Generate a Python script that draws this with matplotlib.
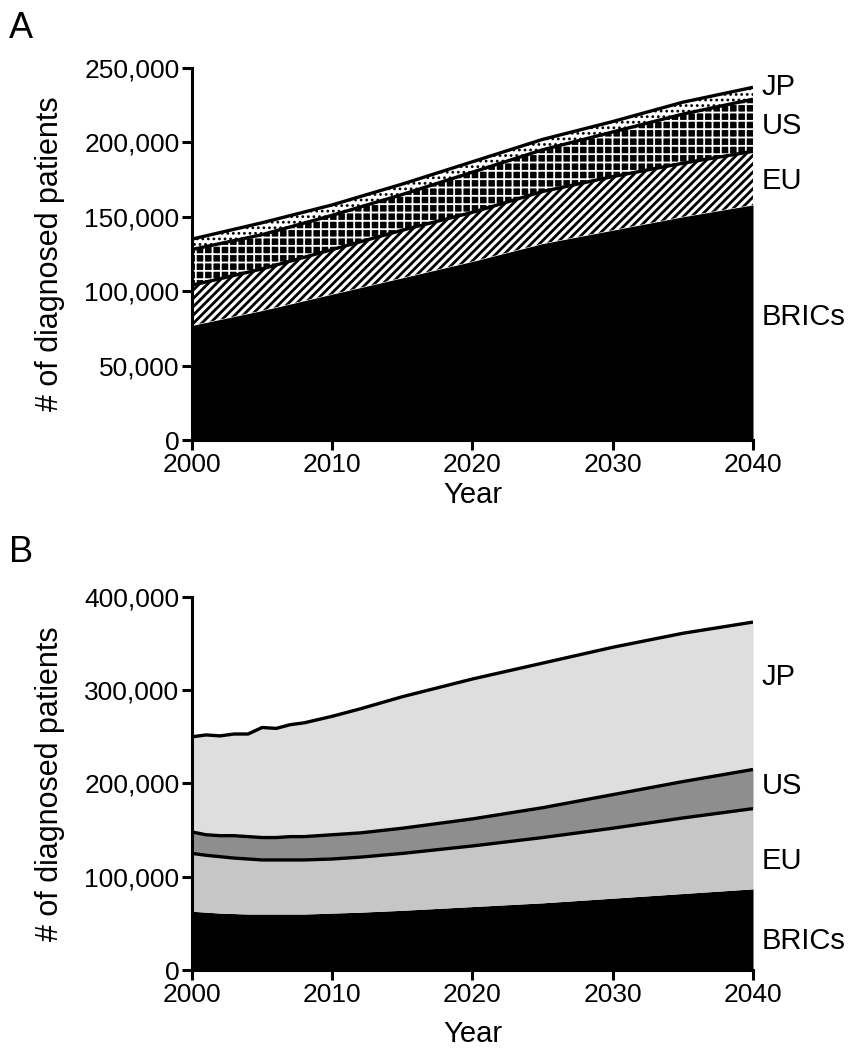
from matplotlib import pyplot as plt
from matplotlib.ticker import FuncFormatter
import numpy as np

plt.rcParams['font.family'] = ['Liberation Sans', 'DejaVu Sans']

# Panel A: diagnosed patients by region (thousands)
years_a = [2000, 2005, 2010, 2015, 2020, 2025, 2030, 2035, 2040]
brics_a = [77, 87, 98, 109, 120, 132, 141, 150, 158]
eu_a = [27, 28, 30, 32, 33, 35, 36, 36, 36]
us_a = [24, 23, 23, 24, 27, 28, 30, 33, 35]
jp_a = [7, 8, 7, 7, 7, 7, 7, 8, 8]

# Panel B (thousands)
years_b = [2000, 2001, 2002, 2003, 2004, 2005, 2006, 2007, 2008, 2010,
           2012, 2015, 2020, 2025, 2030, 2035, 2040]
brics_b = [63, 62, 61, 60.5, 60, 60, 60, 60, 60, 61, 62, 64, 68, 72, 77, 82, 87]
eu_b = [62, 61, 60.5, 59.5, 59, 58, 58, 58, 58, 58, 59, 61, 65, 70, 75, 81, 86]
us_b = [23, 22, 22.5, 24, 24, 24, 24, 25, 25, 26, 26, 27, 29, 32, 36, 39, 42]
jp_b = [102, 107, 107, 109, 110, 118, 117, 120, 122, 127, 133, 141, 150, 155,
        158, 159, 158]

regions = ['BRICs', 'EU', 'US', 'JP']
label_y_a = [83000, 174000, 211000, 237000]
label_y_b = [31000, 117000, 197000, 314000]

fig = plt.figure(figsize=(8.59, 10.57), dpi=100)
ax1 = fig.add_axes([0.2235, 0.5837, 0.6531, 0.352])
ax2 = fig.add_axes([0.2235, 0.0823, 0.6531, 0.353])


def fill(ax, x, lo, hi, face, edge, hatch, hlw=1.0):
    poly = ax.fill_between(x, lo, hi, facecolor=face, edgecolor=edge,
                           hatch=hatch, linewidth=0)
    if hasattr(poly, 'set_hatch_linewidth'):
        poly.set_hatch_linewidth(hlw)
    return poly


def draw(ax, years, series, styles):
    x = np.array(years)
    tops = np.cumsum(np.array(series, dtype=float) * 1000, axis=0)
    lo = np.zeros(len(x))
    for hi, (face, edge, hatch, hlw) in zip(tops, styles):
        fill(ax, x, lo, hi, face, edge, hatch, hlw)
        lo = hi
    for hi in tops[1:]:
        ax.plot(x, hi, color='black', lw=2.4, solid_capstyle='butt')


styles_a = [('black', 'black', None, 1.0),
            ('white', 'black', '////', 2.0),
            ('black', 'white', '++', 1.3),
            ('white', 'black', '...', 1.2)]
styles_b = [('black', 'black', None, 1.0),
            ('#c6c6c6', '#c6c6c6', None, 1.0),
            ('#8e8e8e', '#8e8e8e', None, 1.0),
            ('#dedede', '#dedede', None, 1.0)]

draw(ax1, years_a, [brics_a, eu_a, us_a, jp_a], styles_a)
draw(ax2, years_b, [brics_b, eu_b, us_b, jp_b], styles_b)

fmt = FuncFormatter(lambda v, p: f'{int(v):,}')
for ax, ymax, step, ly, letter, ty in [(ax1, 250000, 50000, label_y_a, 'A', 0.990),
                                       (ax2, 400000, 100000, label_y_b, 'B', 0.494)]:
    ax.set_xlim(2000, 2040)
    ax.set_ylim(0, ymax)
    ax.set_xticks([2000, 2010, 2020, 2030, 2040])
    ax.set_yticks(np.arange(0, ymax + 1, step))
    ax.yaxis.set_major_formatter(fmt)
    for s in ['top', 'right']:
        ax.spines[s].set_visible(False)
    for s in ['left', 'bottom']:
        ax.spines[s].set_linewidth(2.2)
    ax.tick_params(direction='out', length=7, width=2.2, labelsize=19, pad=2)
    ax.set_ylabel('# of diagnosed patients', fontsize=22)
    ax.set_xlabel('Year', fontsize=21)
    ax.yaxis.set_label_coords(-0.226, 0.5)
    for name, y in zip(regions, ly):
        ax.text(1.015, y, name, transform=ax.get_yaxis_transform(),
                fontsize=21, va='center', ha='left')
    fig.text(0.010, ty, letter, fontsize=26, va='top', ha='left')

ax1.xaxis.set_label_coords(0.5, -0.11)
ax2.xaxis.set_label_coords(0.5, -0.135)

fig.savefig('out.png', dpi=100)
